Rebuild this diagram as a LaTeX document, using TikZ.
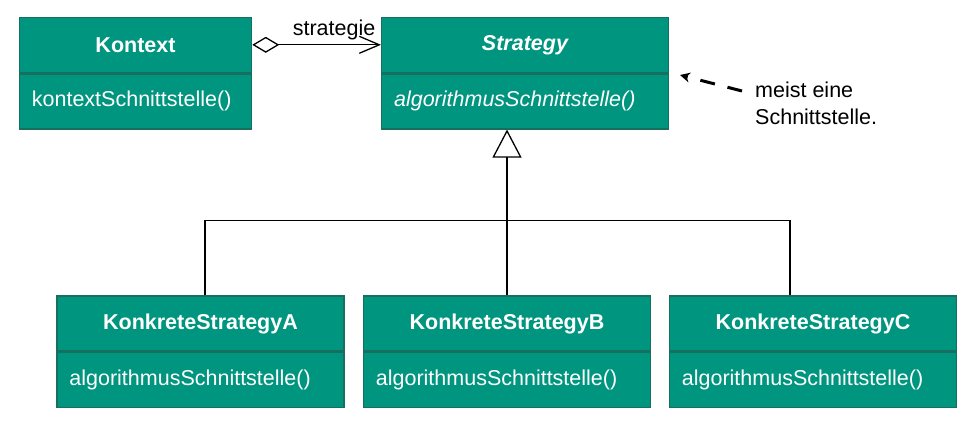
\documentclass[tikz,border=0pt]{standalone}
\usepackage{fontspec}
\setmainfont{Liberation Sans}
\usetikzlibrary{positioning,arrows.meta}
\definecolor{umlfill}{HTML}{00957F}
\definecolor{umlline}{HTML}{17705F}

\begin{document}
\begin{tikzpicture}[x=1pt, y=-1pt, font=\fontsize{21.5}{27}\selectfont,
    head/.style={draw=umlline, line width=1.5pt, fill=umlfill, text=white,
                 font=\fontsize{21.5}{27}\selectfont\bfseries,
                 minimum width=#1, minimum height=55pt, inner sep=0pt},
    meth/.style={draw=umlline, line width=1.5pt, fill=umlfill, text=white,
                 text width=#1, align=left, minimum height=55pt,
                 inner xsep=12.4pt, inner ysep=0pt},
    aggr/.style={{Diamond[open,length=27pt,width=16pt]}-{Straight Barb[length=20pt,width=17pt]},
                 line width=1.3pt},
    gen/.style={-{Triangle[open,length=28pt,width=29pt]}, line width=1.3pt},
    hint/.style={-{Stealth[length=10pt,width=10pt]}, line width=3pt,
                 dash pattern=on 15pt off 13pt}]
  \path[use as bounding box, fill=white] (0,0) rectangle (970,428);

  % context and strategy interface
  \node[head=232pt] (kh) at (135.5,44.8) {Kontext};
  \node[meth=207.2pt, below=0pt of kh] (km) {kontextSchnittstelle()};
  \node[head=286.6pt] (sh) at (525,44.8) {\itshape Strategy};
  \node[meth=261.8pt, below=0pt of sh] (sm) {\itshape algorithmusSchnittstelle()};

  % concrete strategies
  \node[head=287pt] (kah) at (200.5,323.7) {KonkreteStrategyA};
  \node[meth=262.2pt, below=0pt of kah] (kam) {algorithmusSchnittstelle()};
  \node[head=287pt] (kbh) at (507,323.7) {KonkreteStrategyB};
  \node[meth=262.2pt, below=0pt of kbh] (kbm) {algorithmusSchnittstelle()};
  \node[head=287pt] (kch) at (813,323.7) {KonkreteStrategyC};
  \node[meth=262.2pt, below=0pt of kch] (kcm) {algorithmusSchnittstelle()};

  \draw[aggr] (kh.east) -- (sh.west)
    node[pos=1, anchor=base east, inner sep=0pt, xshift=-5pt, yshift=9pt] {strategie};

  \coordinate (fork) at (kbh.north |- 0,220.7);
  \draw[gen] (kbh.north) -- (kbh.north |- sm.south);
  \draw[line width=1.3pt] ([xshift=4.5pt]kah.north) |- (fork) -| ([xshift=-23pt]kch.north);

  % note
  \node[anchor=north west, inner sep=0pt, align=left] (note) at (755,81.5)
    {meist eine\\Schnittstelle.};
  \coordinate (tip) at (680,75);
  \draw[hint] ([xshift=-13pt,yshift=-9.5pt]note.north west) -- (tip);
\end{tikzpicture}
\end{document}
